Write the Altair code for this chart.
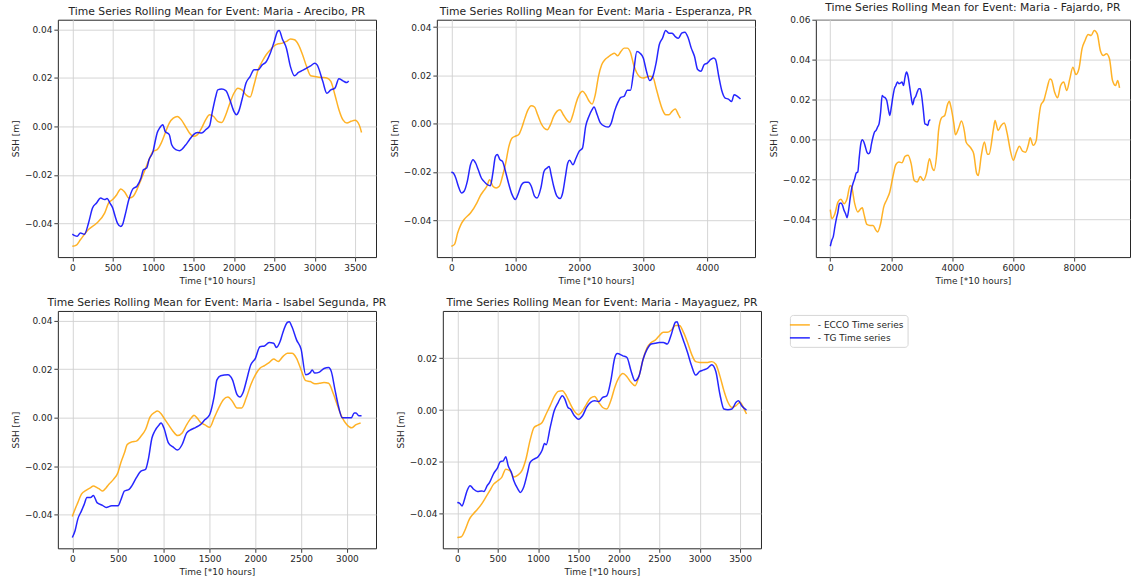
import altair as alt
import pandas as pd

ECCO_LABEL = "- ECCO Time series"
TG_LABEL = "- TG Time series"
ECCO_COLOR = "#ffa500"
TG_COLOR = "#0000ff"
TEXT = "#262626"
FONT = "DejaVu Sans"

# ---- Arecibo ----
ARECIBO_ECCO_T = [0, 50, 100, 200, 300, 400, 450, 500, 550, 600,
                  650, 700, 750, 800, 850, 900, 950, 1000, 1050, 1100,
                  1150, 1200, 1250, 1300, 1350, 1400, 1450, 1500, 1550, 1600,
                  1650, 1700, 1750, 1800, 1850, 1900, 1950, 2000, 2050, 2100,
                  2150, 2200, 2250, 2300, 2350, 2400, 2450, 2500, 2550, 2600,
                  2650, 2700, 2750, 2800, 2850, 2900, 2950, 3000, 3050, 3100,
                  3150, 3200, 3250, 3300, 3350, 3400, 3450, 3500, 3550, 3580]
ARECIBO_ECCO_SSH = [-0.0495, -0.0490, -0.0468, -0.0426, -0.0400, -0.0358, -0.0316, -0.0302, -0.0282, -0.0258,
                    -0.0272, -0.0296, -0.0290, -0.0261, -0.0220, -0.0179, -0.0137, -0.0103, -0.0096, -0.0069,
                    -0.0027, 0.0014, 0.0034, 0.0041, 0.0027, 0.0000, -0.0027, -0.0041, -0.0034, -0.0007,
                    0.0027, 0.0048, 0.0041, 0.0021, 0.0016, 0.0048, 0.0096, 0.0137, 0.0158, 0.0151,
                    0.0130, 0.0121, 0.0172, 0.0234, 0.0268, 0.0296, 0.0316, 0.0333, 0.0341, 0.0344,
                    0.0351, 0.0361, 0.0358, 0.0337, 0.0296, 0.0247, 0.0209, 0.0206, 0.0203, 0.0202,
                    0.0200, 0.0186, 0.0131, 0.0069, 0.0027, 0.0014, 0.0021, 0.0025, 0.0007, -0.0025]
ARECIBO_TG_T = [0, 30, 60, 100, 150, 200, 250, 300, 350, 400,
                430, 470, 500, 530, 560, 600, 620, 650, 700, 750,
                800, 850, 880, 920, 950, 1000, 1030, 1050, 1080, 1120,
                1150, 1200, 1230, 1280, 1330, 1400, 1450, 1500, 1550, 1600,
                1650, 1700, 1730, 1780, 1800, 1850, 1900, 1950, 2000, 2030,
                2060, 2100, 2150, 2200, 2250, 2300, 2350, 2400, 2450, 2500,
                2540, 2560, 2600, 2650, 2700, 2750, 2800, 2850, 2900, 2950,
                3000, 3030, 3100, 3150, 3200, 3250, 3300, 3350, 3400, 3420]
ARECIBO_TG_SSH = [-0.0445, -0.0451, -0.0454, -0.0440, -0.0445, -0.0400, -0.0337, -0.0316, -0.0296, -0.0302,
                  -0.0298, -0.0319, -0.0337, -0.0371, -0.0400, -0.0413, -0.0407, -0.0371, -0.0302, -0.0258,
                  -0.0247, -0.0213, -0.0179, -0.0172, -0.0137, -0.0103, -0.0055, -0.0027, -0.0007, 0.0007,
                  -0.0021, -0.0034, -0.0076, -0.0096, -0.0100, -0.0078, -0.0055, -0.0034, -0.0025, -0.0027,
                  -0.0014, 0.0003, 0.0055, 0.0130, 0.0151, 0.0154, 0.0148, 0.0110, 0.0062, 0.0048,
                  0.0062, 0.0110, 0.0179, 0.0206, 0.0234, 0.0234, 0.0254, 0.0267, 0.0302, 0.0351,
                  0.0392, 0.0396, 0.0361, 0.0323, 0.0247, 0.0209, 0.0223, 0.0231, 0.0241, 0.0250,
                  0.0261, 0.0254, 0.0186, 0.0137, 0.0151, 0.0158, 0.0197, 0.0188, 0.0181, 0.0188]

# ---- Esperanza ----
ESPERANZA_ECCO_T = [0, 50, 100, 150, 200, 300, 400, 450, 500, 550,
                    600, 650, 700, 750, 800, 850, 900, 950, 1000, 1050,
                    1100, 1150, 1200, 1250, 1300, 1350, 1400, 1450, 1500, 1550,
                    1600, 1650, 1700, 1750, 1800, 1850, 1900, 1950, 2000, 2050,
                    2100, 2150, 2200, 2250, 2300, 2350, 2400, 2450, 2500, 2550,
                    2600, 2650, 2700, 2750, 2800, 2850, 2900, 2950, 3000, 3050,
                    3100, 3150, 3200, 3250, 3300, 3350, 3400, 3450, 3500, 3550,
                    3580]
ESPERANZA_ECCO_SSH = [-0.0508, -0.0500, -0.0452, -0.0418, -0.0397, -0.0370, -0.0328, -0.0300, -0.0280, -0.0262,
                      -0.0232, -0.0259, -0.0266, -0.0259, -0.0218, -0.0163, -0.0094, -0.0059, -0.0052, -0.0046,
                      -0.0018, 0.0023, 0.0058, 0.0074, 0.0069, 0.0037, 0.0003, -0.0018, -0.0025, -0.0004,
                      0.0030, 0.0051, 0.0058, 0.0037, 0.0017, 0.0006, 0.0037, 0.0086, 0.0120, 0.0134,
                      0.0120, 0.0095, 0.0081, 0.0120, 0.0196, 0.0244, 0.0265, 0.0276, 0.0286, 0.0292,
                      0.0281, 0.0299, 0.0313, 0.0313, 0.0295, 0.0244, 0.0210, 0.0193, 0.0189, 0.0193,
                      0.0196, 0.0193, 0.0148, 0.0099, 0.0058, 0.0037, 0.0037, 0.0051, 0.0061, 0.0037,
                      0.0023]
ESPERANZA_TG_T = [0, 30, 70, 110, 160, 200, 250, 300, 340, 380,
                  420, 470, 510, 560, 610, 650, 690, 720, 760, 800,
                  850, 900, 950, 1000, 1050, 1100, 1150, 1200, 1250, 1300,
                  1340, 1400, 1450, 1500, 1530, 1560, 1600, 1650, 1700, 1740,
                  1780, 1820, 1850, 1900, 1950, 2000, 2050, 2100, 2150, 2200,
                  2230, 2280, 2330, 2400, 2450, 2500, 2550, 2600, 2650, 2700,
                  2750, 2800, 2850, 2900, 2950, 3000, 3050, 3100, 3150, 3200,
                  3250, 3300, 3350, 3400, 3450, 3500, 3550, 3600, 3650, 3700,
                  3750, 3800, 3850, 3900, 3950, 4000, 4050, 4100, 4130, 4180,
                  4230, 4280, 4330, 4380, 4420, 4470, 4520]
ESPERANZA_TG_SSH = [-0.0201, -0.0204, -0.0225, -0.0259, -0.0287, -0.0280, -0.0239, -0.0170, -0.0149, -0.0163,
                    -0.0190, -0.0225, -0.0239, -0.0252, -0.0257, -0.0204, -0.0135, -0.0128, -0.0149, -0.0156,
                    -0.0201, -0.0252, -0.0294, -0.0314, -0.0287, -0.0252, -0.0243, -0.0243, -0.0259, -0.0300,
                    -0.0308, -0.0266, -0.0197, -0.0183, -0.0177, -0.0211, -0.0259, -0.0300, -0.0310, -0.0287,
                    -0.0225, -0.0163, -0.0152, -0.0170, -0.0142, -0.0114, -0.0101, -0.0011, 0.0030, 0.0058,
                    0.0069, 0.0037, 0.0003, -0.0011, -0.0014, 0.0003, 0.0051, 0.0086, 0.0109, 0.0113,
                    0.0138, 0.0138, 0.0217, 0.0299, 0.0292, 0.0272, 0.0217, 0.0179, 0.0196, 0.0251,
                    0.0327, 0.0354, 0.0386, 0.0375, 0.0375, 0.0361, 0.0354, 0.0375, 0.0379, 0.0357,
                    0.0313, 0.0279, 0.0224, 0.0217, 0.0244, 0.0251, 0.0265, 0.0272, 0.0265, 0.0196,
                    0.0134, 0.0106, 0.0102, 0.0092, 0.0120, 0.0113, 0.0102]

# ---- Fajardo ----
FAJARDO_ECCO_T = [0, 50, 150, 250, 350, 450, 550, 650, 700, 800,
                  900, 1000, 1050, 1100, 1200, 1300, 1400, 1500, 1550, 1650,
                  1750, 1850, 1950, 2050, 2150, 2250, 2350, 2450, 2550, 2650,
                  2750, 2850, 2950, 3050, 3150, 3250, 3350, 3400, 3500, 3550,
                  3650, 3750, 3850, 3900, 3950, 4050, 4100, 4200, 4300, 4400,
                  4450, 4600, 4700, 4800, 4850, 4950, 5050, 5150, 5200, 5350,
                  5400, 5500, 5600, 5700, 5800, 5900, 6000, 6100, 6200, 6300,
                  6400, 6500, 6550, 6650, 6750, 6800, 6900, 7000, 7100, 7200,
                  7250, 7350, 7450, 7550, 7650, 7750, 7850, 7950, 8050, 8150,
                  8250, 8350, 8450, 8550, 8650, 8750, 8850, 8950, 9050, 9150,
                  9250, 9350, 9420, 9480]
FAJARDO_ECCO_SSH = [-0.0353, -0.0398, -0.0373, -0.0315, -0.0301, -0.0323, -0.0298, -0.0231, -0.0239, -0.0323,
                    -0.0365, -0.0348, -0.0343, -0.0373, -0.0427, -0.0432, -0.0432, -0.0457, -0.0465, -0.0423,
                    -0.0340, -0.0303, -0.0264, -0.0189, -0.0126, -0.0114, -0.0117, -0.0085, -0.0080, -0.0122,
                    -0.0206, -0.0214, -0.0186, -0.0206, -0.0172, -0.0097, -0.0147, -0.0156, -0.0055, 0.0045,
                    0.0109, 0.0120, 0.0179, 0.0191, 0.0166, 0.0079, 0.0023, 0.0054, 0.0092, 0.0037,
                    -0.0013, -0.0042, -0.0072, -0.0172, -0.0181, -0.0080, -0.0013, -0.0075, -0.0075, 0.0054,
                    0.0095, 0.0045, 0.0070, 0.0082, 0.0028, -0.0055, -0.0105, -0.0064, -0.0035, -0.0059,
                    -0.0064, -0.0022, 0.0008, -0.0030, -0.0005, 0.0062, 0.0171, 0.0196, 0.0254, 0.0304,
                    0.0299, 0.0238, 0.0209, 0.0271, 0.0288, 0.0246, 0.0304, 0.0363, 0.0326, 0.0355,
                    0.0455, 0.0497, 0.0527, 0.0522, 0.0547, 0.0530, 0.0447, 0.0422, 0.0430, 0.0405,
                    0.0296, 0.0271, 0.0296, 0.0259]
FAJARDO_TG_T = [0, 50, 100, 150, 200, 250, 300, 350, 400, 450,
                500, 550, 600, 650, 700, 750, 800, 850, 900, 950,
                1000, 1050, 1100, 1150, 1200, 1250, 1300, 1350, 1400, 1450,
                1500, 1550, 1600, 1650, 1700, 1750, 1800, 1850, 1900, 1950,
                2000, 2050, 2100, 2150, 2200, 2250, 2300, 2350, 2400, 2450,
                2500, 2550, 2600, 2650, 2700, 2750, 2800, 2850, 2900, 2950,
                3000, 3050, 3100, 3150, 3200, 3230, 3280]
FAJARDO_TG_SSH = [-0.0537, -0.0507, -0.0487, -0.0440, -0.0398, -0.0365, -0.0323, -0.0320, -0.0331, -0.0356,
                  -0.0373, -0.0393, -0.0356, -0.0298, -0.0248, -0.0219, -0.0197, -0.0169, -0.0164, -0.0089,
                  -0.0022, -0.0002, -0.0013, -0.0038, -0.0064, -0.0072, -0.0064, -0.0022, 0.0012, 0.0037,
                  0.0045, 0.0062, 0.0079, 0.0137, 0.0220, 0.0213, 0.0209, 0.0196, 0.0154, 0.0120,
                  0.0162, 0.0213, 0.0254, 0.0271, 0.0288, 0.0280, 0.0283, 0.0288, 0.0271, 0.0313,
                  0.0338, 0.0316, 0.0266, 0.0213, 0.0174, 0.0204, 0.0216, 0.0238, 0.0254, 0.0254,
                  0.0213, 0.0146, 0.0079, 0.0075, 0.0070, 0.0092, 0.0099]

# ---- Isabel Segunda ----
ISABEL_ECCO_T = [0, 30, 60, 100, 150, 200, 230, 270, 300, 330,
                 370, 400, 450, 500, 530, 570, 600, 650, 700, 750,
                 800, 850, 900, 930, 970, 1000, 1050, 1100, 1150, 1200,
                 1250, 1300, 1330, 1370, 1400, 1450, 1500, 1550, 1600, 1650,
                 1700, 1750, 1800, 1850, 1900, 1950, 2000, 2050, 2100, 2150,
                 2200, 2250, 2300, 2350, 2400, 2450, 2500, 2550, 2600, 2650,
                 2700, 2750, 2800, 2850, 2900, 2950, 3000, 3050, 3100, 3150]
ISABEL_ECCO_SSH = [-0.0408, -0.0378, -0.0351, -0.0316, -0.0300, -0.0289, -0.0282, -0.0289, -0.0296, -0.0303,
                   -0.0289, -0.0275, -0.0255, -0.0225, -0.0186, -0.0145, -0.0111, -0.0100, -0.0097, -0.0077,
                   -0.0049, 0.0003, 0.0022, 0.0027, 0.0016, -0.0001, -0.0029, -0.0056, -0.0074, -0.0063,
                   -0.0029, -0.0001, 0.0010, -0.0005, -0.0019, -0.0030, -0.0040, -0.0001, 0.0040, 0.0074,
                   0.0085, 0.0067, 0.0040, 0.0040, 0.0081, 0.0136, 0.0177, 0.0204, 0.0215, 0.0227,
                   0.0242, 0.0232, 0.0252, 0.0266, 0.0266, 0.0245, 0.0197, 0.0153, 0.0149, 0.0140,
                   0.0142, 0.0145, 0.0142, 0.0101, 0.0047, -0.0001, -0.0029, -0.0042, -0.0029, -0.0022]
ISABEL_TG_T = [0, 30, 60, 100, 130, 160, 200, 230, 270, 330,
               370, 430, 500, 530, 570, 620, 650, 700, 750, 800,
               830, 870, 900, 950, 970, 1000, 1050, 1100, 1150, 1200,
               1250, 1300, 1350, 1400, 1450, 1500, 1550, 1580, 1620, 1700,
               1750, 1800, 1830, 1870, 1900, 1950, 2000, 2050, 2100, 2150,
               2200, 2230, 2270, 2300, 2350, 2370, 2400, 2450, 2500, 2550,
               2600, 2620, 2650, 2700, 2750, 2800, 2830, 2870, 2900, 2950,
               3000, 3050, 3080, 3100, 3130, 3160]
ISABEL_TG_SSH = [-0.0495, -0.0467, -0.0419, -0.0385, -0.0358, -0.0330, -0.0330, -0.0321, -0.0351, -0.0362,
                 -0.0371, -0.0364, -0.0364, -0.0340, -0.0303, -0.0296, -0.0282, -0.0248, -0.0221, -0.0214,
                 -0.0173, -0.0084, -0.0056, -0.0029, -0.0022, -0.0042, -0.0104, -0.0121, -0.0134, -0.0111,
                 -0.0063, -0.0049, -0.0040, -0.0029, -0.0008, 0.0012, 0.0088, 0.0156, 0.0173, 0.0177,
                 0.0156, 0.0095, 0.0085, 0.0108, 0.0149, 0.0218, 0.0245, 0.0293, 0.0296, 0.0310,
                 0.0307, 0.0290, 0.0314, 0.0351, 0.0393, 0.0396, 0.0375, 0.0321, 0.0282, 0.0177,
                 0.0186, 0.0197, 0.0184, 0.0188, 0.0203, 0.0207, 0.0190, 0.0115, 0.0060, 0.0000,
                 0.0000, 0.0000, 0.0019, 0.0019, 0.0008, 0.0008]

# ---- Mayaguez ----
MAYAGUEZ_ECCO_T = [0, 50, 100, 150, 200, 250, 300, 350, 400, 450,
                   500, 550, 600, 650, 700, 750, 800, 850, 900, 950,
                   1000, 1050, 1100, 1150, 1200, 1250, 1300, 1350, 1400, 1450,
                   1500, 1550, 1600, 1650, 1700, 1750, 1800, 1850, 1900, 1950,
                   2000, 2050, 2100, 2150, 2200, 2250, 2300, 2350, 2400, 2450,
                   2500, 2550, 2600, 2650, 2700, 2750, 2800, 2850, 2900, 2950,
                   3000, 3050, 3100, 3150, 3200, 3250, 3300, 3350, 3400, 3450,
                   3500, 3550, 3580]
MAYAGUEZ_ECCO_SSH = [-0.0492, -0.0489, -0.0460, -0.0421, -0.0400, -0.0383, -0.0363, -0.0338, -0.0312, -0.0286,
                     -0.0273, -0.0260, -0.0228, -0.0234, -0.0258, -0.0251, -0.0234, -0.0189, -0.0118, -0.0067,
                     -0.0058, -0.0048, -0.0015, 0.0017, 0.0052, 0.0072, 0.0075, 0.0055, 0.0023, -0.0005,
                     -0.0018, -0.0003, 0.0023, 0.0046, 0.0052, 0.0030, 0.0010, 0.0004, 0.0036, 0.0088,
                     0.0125, 0.0141, 0.0129, 0.0107, 0.0094, 0.0132, 0.0196, 0.0241, 0.0261, 0.0270,
                     0.0287, 0.0300, 0.0300, 0.0309, 0.0326, 0.0326, 0.0300, 0.0261, 0.0216, 0.0187,
                     0.0184, 0.0184, 0.0184, 0.0187, 0.0177, 0.0132, 0.0075, 0.0030, 0.0010, 0.0017,
                     0.0030, 0.0004, -0.0015]
MAYAGUEZ_TG_T = [0, 30, 60, 90, 120, 160, 200, 250, 300, 330,
                 370, 400, 450, 500, 530, 570, 600, 630, 670, 700,
                 750, 780, 820, 870, 900, 950, 1000, 1050, 1080, 1100,
                 1150, 1200, 1250, 1300, 1330, 1370, 1400, 1450, 1500, 1550,
                 1600, 1650, 1700, 1750, 1800, 1850, 1900, 1950, 1980, 2050,
                 2100, 2150, 2200, 2250, 2300, 2350, 2400, 2450, 2500, 2550,
                 2600, 2650, 2700, 2720, 2750, 2800, 2850, 2900, 2950, 3000,
                 3050, 3100, 3150, 3200, 3250, 3300, 3350, 3400, 3450, 3480,
                 3520, 3580]
MAYAGUEZ_TG_SSH = [-0.0357, -0.0360, -0.0370, -0.0344, -0.0312, -0.0292, -0.0305, -0.0314, -0.0312, -0.0314,
                   -0.0292, -0.0279, -0.0245, -0.0222, -0.0200, -0.0196, -0.0180, -0.0215, -0.0241, -0.0273,
                   -0.0305, -0.0318, -0.0299, -0.0241, -0.0203, -0.0189, -0.0180, -0.0155, -0.0129, -0.0134,
                   -0.0067, -0.0003, 0.0030, 0.0055, 0.0043, 0.0010, 0.0004, -0.0022, -0.0035, -0.0022,
                   0.0010, 0.0030, 0.0036, 0.0033, 0.0049, 0.0055, 0.0113, 0.0203, 0.0218, 0.0209,
                   0.0203, 0.0152, 0.0113, 0.0132, 0.0196, 0.0235, 0.0255, 0.0258, 0.0261, 0.0261,
                   0.0255, 0.0293, 0.0339, 0.0341, 0.0313, 0.0268, 0.0222, 0.0171, 0.0135, 0.0149,
                   0.0155, 0.0162, 0.0175, 0.0149, 0.0062, 0.0004, 0.0001, 0.0004, 0.0030, 0.0036,
                   0.0017, 0.0000]

Y_TICKS = [-0.04, -0.02, 0.0, 0.02, 0.04]
Y_TICKS_FAJARDO = [-0.04, -0.02, 0.0, 0.02, 0.04, 0.06]
Y_TICKS_MAYAGUEZ = [-0.04, -0.02, 0.0, 0.02]
X_TICKS_500 = [0, 500, 1000, 1500, 2000, 2500, 3000, 3500]
X_TICKS_1000 = [0, 1000, 2000, 3000, 4000]
X_TICKS_2000 = [0, 2000, 4000, 6000, 8000]

PANEL_W = 319
PANEL_H = 238
FAJARDO_W = 315  # the last panel runs to the page edge


def padded(lo, hi, frac=0.05):
    span = hi - lo
    return [lo - frac * span, hi + frac * span]


def panel(station, ecco_t, ecco_v, tg_t, tg_v, x_ticks, y_ticks,
          width=PANEL_W, legend=None, x_keep=1.0):
    assert len(ecco_t) == len(ecco_v) and len(tg_t) == len(tg_v)
    df = pd.concat([
        pd.DataFrame({"t": ecco_t, "ssh": ecco_v, "series": ECCO_LABEL}),
        pd.DataFrame({"t": tg_t, "ssh": tg_v, "series": TG_LABEL}),
    ], ignore_index=True)
    x_dom = padded(df["t"].min(), df["t"].max())
    # a panel cut by the page edge keeps only its visible share of the axis
    x_dom[1] = x_dom[0] + (x_dom[1] - x_dom[0]) * x_keep
    y_dom = padded(df["ssh"].min(), df["ssh"].max())
    return alt.Chart(df).mark_line(
        strokeWidth=1.5, opacity=0.85, interpolate="monotone", clip=True
    ).encode(
        x=alt.X("t:Q",
                scale=alt.Scale(domain=x_dom, nice=False, zero=False),
                axis=alt.Axis(values=x_ticks, format="d", title="Time [*10 hours]")),
        y=alt.Y("ssh:Q",
                scale=alt.Scale(domain=y_dom, nice=False, zero=False),
                axis=alt.Axis(values=y_ticks, format=".2f", title="SSH [m]")),
        color=alt.Color("series:N",
                        scale=alt.Scale(domain=[ECCO_LABEL, TG_LABEL],
                                        range=[ECCO_COLOR, TG_COLOR]),
                        legend=legend),
    ).properties(
        width=width, height=PANEL_H,
        title=f"Time Series Rolling Mean for Event: Maria - {station}, PR",
    )


legend = alt.Legend(
    title=None, orient="none", legendX=348, legendY=4,
    symbolType="M-2,0L2,0", symbolSize=100, symbolStrokeWidth=1.5,
    symbolOpacity=0.85, labelFont=FONT, labelFontSize=9, labelColor=TEXT,
    labelOffset=12, padding=4, rowPadding=2,
    strokeColor="#d6d6d6", fillColor="#ffffff", cornerRadius=3,
)

p1 = panel("Arecibo", ARECIBO_ECCO_T, ARECIBO_ECCO_SSH, ARECIBO_TG_T, ARECIBO_TG_SSH,
           X_TICKS_500, Y_TICKS)
p2 = panel("Esperanza", ESPERANZA_ECCO_T, ESPERANZA_ECCO_SSH, ESPERANZA_TG_T, ESPERANZA_TG_SSH,
           X_TICKS_1000, Y_TICKS)
p3 = panel("Fajardo", FAJARDO_ECCO_T, FAJARDO_ECCO_SSH, FAJARDO_TG_T, FAJARDO_TG_SSH,
           X_TICKS_2000, Y_TICKS_FAJARDO, width=FAJARDO_W, x_keep=FAJARDO_W / PANEL_W)
p4 = panel("Isabel Segunda", ISABEL_ECCO_T, ISABEL_ECCO_SSH, ISABEL_TG_T, ISABEL_TG_SSH,
           X_TICKS_500, Y_TICKS)
p5 = panel("Mayaguez", MAYAGUEZ_ECCO_T, MAYAGUEZ_ECCO_SSH, MAYAGUEZ_TG_T, MAYAGUEZ_TG_SSH,
           X_TICKS_500, Y_TICKS_MAYAGUEZ, legend=legend)

row1 = alt.hconcat(p1, p2, p3, spacing=12).resolve_scale(color="independent")
row2 = alt.hconcat(p4, p5, spacing=8).resolve_scale(color="independent")

chart = alt.vconcat(row1, row2, spacing=10).resolve_scale(
    color="independent"
).properties(
    padding={"left": 10, "top": 0, "right": 0, "bottom": 0},
    background="white",
).configure_view(
    stroke=TEXT, strokeWidth=1,
).configure_axis(
    domain=False, grid=True, gridColor="#d0d0d0", gridWidth=0.9,
    tickColor=TEXT, tickSize=4, tickWidth=0.9,
    labelFont=FONT, labelFontSize=9, labelColor=TEXT, labelPadding=2,
    labelOverlap=False,
    titleFont=FONT, titleFontSize=9, titleFontWeight="normal",
    titleColor=TEXT, titlePadding=4,
).configure_title(
    font=FONT, fontSize=10.8, fontWeight="normal", color=TEXT,
    anchor="middle", frame="group", offset=3,
)

chart.save("out.html", embed_options={"renderer": "svg", "actions": False})
